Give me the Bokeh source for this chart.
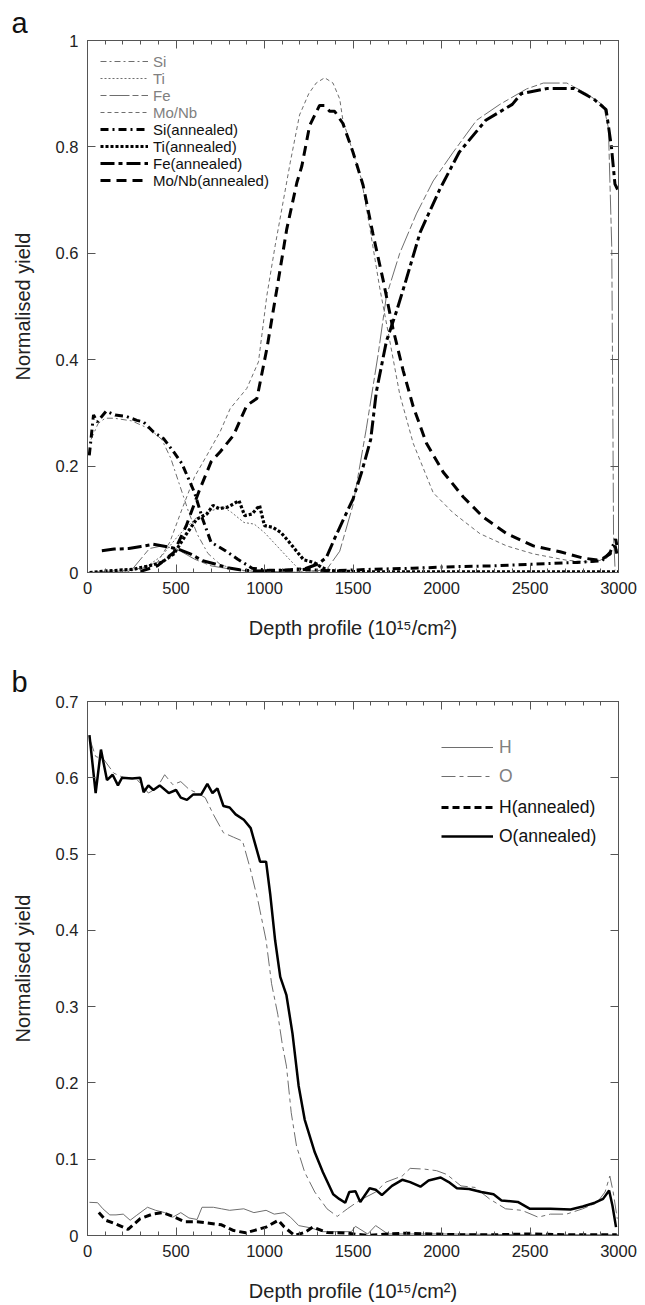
from bokeh.plotting import figure
from bokeh.models import (Range1d, LinearAxis, FixedTicker, CustomJSTickFormatter, Legend)
from bokeh.layouts import column
from bokeh.embed import file_html
from bokeh.resources import INLINE

# ---------------- data: panel a ----------------
si_x = [20, 60, 100, 150, 250, 350, 420, 470, 520, 570, 620, 680, 750, 850, 1000, 1500, 2000, 2500, 2950, 2990]
si_y = [0.25, 0.28, 0.29, 0.29, 0.285, 0.27, 0.25, 0.215, 0.165, 0.115, 0.072, 0.036, 0.015, 0.004, 0.001, 0.0, 0.0, 0.0, 0.0, 0.0]

ti_x = [0, 209, 326, 419, 512, 605, 698, 767, 814, 884, 942, 1000, 1070, 1140, 1186, 1256, 1400, 2000, 3000]
ti_y = [0, 0, 0.009, 0.031, 0.069, 0.1, 0.116, 0.123, 0.113, 0.094, 0.091, 0.075, 0.05, 0.025, 0.009, 0.003, 0, 0, 0]

fe_x = [0, 250, 350, 420, 500, 605, 698, 814, 950, 1200, 1350, 1425, 1500, 1575, 1642, 1689, 1764, 1858, 1953,
        2066, 2198, 2330, 2481, 2575, 2708, 2821, 2915, 2943, 2962, 2968, 2972, 2981]
fe_y = [0.0, 0.005, 0.045, 0.05, 0.045, 0.025, 0.0125, 0.006, 0.002, 0.001, 0.005, 0.04, 0.127, 0.27, 0.41, 0.52,
        0.6, 0.674, 0.736, 0.79, 0.85, 0.88, 0.909, 0.92, 0.92, 0.9, 0.878, 0.836, 0.61, 0.3, 0.07, 0.004]

mo_x = [0, 209, 300, 395, 465, 535, 605, 674, 750, 806, 900, 966, 1013, 1060, 1107, 1145, 1198, 1250, 1292, 1340,
        1387, 1425, 1443, 1500, 1547, 1594, 1651, 1708, 1764, 1840, 1953, 2066, 2217, 2368, 2519, 2708, 2858,
        2934, 2972, 2995]
mo_y = [0, 0.003, 0.008, 0.019, 0.057, 0.12, 0.18, 0.22, 0.265, 0.308, 0.346, 0.396, 0.52, 0.614, 0.70, 0.77, 0.86,
        0.9, 0.92, 0.93, 0.92, 0.89, 0.85, 0.79, 0.74, 0.65, 0.535, 0.435, 0.335, 0.243, 0.15, 0.112, 0.073, 0.05,
        0.035, 0.023, 0.019, 0.027, 0.042, 0.042]

si_ann_x = [10, 34, 56, 72, 105, 156, 222, 279, 316, 373, 429, 486, 533, 605, 651, 698, 779, 849, 930, 1023, 1140,
            1233, 1372, 1605, 1837, 2070, 2302, 2535, 2767, 2907, 2953, 2984, 2995]
si_ann_y = [0.22, 0.296, 0.283, 0.29, 0.303, 0.296, 0.293, 0.286, 0.283, 0.264, 0.252, 0.227, 0.205, 0.15, 0.1,
            0.057, 0.041, 0.025, 0.008, 0.004, 0.004, 0.006, 0.003, 0.006, 0.008, 0.011, 0.0125, 0.016, 0.019,
            0.022, 0.038, 0.063, 0.044]

ti_ann_x = [12, 116, 256, 349, 419, 488, 558, 616, 674, 709, 744, 791, 826, 856, 888, 930, 972, 1000, 1047, 1093,
            1140, 1186, 1221, 1279, 1326, 1372, 1600, 2000, 2500, 3000]
ti_ann_y = [0, 0.003, 0.006, 0.0125, 0.019, 0.035, 0.072, 0.1, 0.11, 0.126, 0.12, 0.123, 0.129, 0.135, 0.107, 0.11,
            0.126, 0.088, 0.085, 0.075, 0.057, 0.038, 0.024, 0.019, 0.009, 0.003, 0.001, 0.001, 0.001, 0.001]

fe_ann_x = [81, 151, 233, 302, 372, 442, 512, 581, 651, 721, 791, 860, 953, 1093, 1186, 1233, 1302, 1349, 1395,
            1442, 1500, 1550, 1600, 1632, 1689, 1745, 1800, 1880, 1990, 2100, 2250, 2400, 2450, 2600, 2750, 2860,
            2930, 2960, 2980, 2995]
fe_ann_y = [0.041, 0.044, 0.045, 0.049, 0.053, 0.049, 0.044, 0.035, 0.022, 0.016, 0.009, 0.005, 0.003, 0.004,
            0.006, 0.0075, 0.016, 0.028, 0.063, 0.097, 0.138, 0.19, 0.25, 0.34, 0.435, 0.49, 0.55, 0.64, 0.72,
            0.79, 0.85, 0.88, 0.9, 0.91, 0.91, 0.89, 0.87, 0.8, 0.73, 0.72]

mo_ann_x = [300, 395, 488, 558, 628, 698, 750, 825, 900, 957, 1013, 1070, 1126, 1183, 1211, 1255, 1311, 1340, 1368,
            1396, 1443, 1500, 1557, 1613, 1670, 1726, 1783, 1840, 1915, 2009, 2123, 2236, 2368, 2519, 2670, 2802,
            2896, 2953, 2981, 2994]
mo_ann_y = [0.002, 0.0125, 0.038, 0.088, 0.151, 0.208, 0.227, 0.258, 0.314, 0.327, 0.42, 0.533, 0.646, 0.733,
            0.764, 0.84, 0.878, 0.878, 0.867, 0.867, 0.844, 0.79, 0.728, 0.636, 0.55, 0.458, 0.38, 0.312, 0.243,
            0.189, 0.142, 0.104, 0.073, 0.05, 0.039, 0.027, 0.023, 0.035, 0.05, 0.031]

# ---------------- data: panel b ----------------
h_x = [11, 57, 87, 126, 161, 202, 241, 275, 339, 385, 436, 482, 527, 573, 619, 647, 711, 757, 803, 883, 940, 1009,
       1055, 1112, 1147, 1193, 1261, 1330, 1491, 1514, 1583, 1628, 1697, 2000, 2500, 3000]
h_y = [0.0435, 0.043, 0.035, 0.027, 0.027, 0.028, 0.02, 0.026, 0.037, 0.033, 0.03, 0.024, 0.03, 0.023, 0.021, 0.037,
       0.037, 0.035, 0.033, 0.035, 0.03, 0.033, 0.028, 0.03, 0.024, 0.013, 0.01, 0.005, 0.005, 0.012, 0.002, 0.013,
       0.002, 0.002, 0.001, 0.001]

o_x = [11, 46, 92, 149, 206, 275, 344, 390, 436, 482, 527, 573, 619, 665, 711, 768, 826, 876, 917, 963, 1009, 1040,
       1075, 1101, 1124, 1151, 1181, 1227, 1284, 1353, 1411, 1468, 1537, 1628, 1686, 1778, 1823, 1904, 1972, 2030,
       2110, 2190, 2271, 2362, 2454, 2546, 2615, 2706, 2798, 2878, 2924, 2951, 2970, 2993]
o_y = [0.652, 0.628, 0.624, 0.606, 0.6, 0.599, 0.58, 0.586, 0.604, 0.591, 0.595, 0.585, 0.58, 0.574, 0.552, 0.528,
       0.522, 0.517, 0.483, 0.439, 0.387, 0.33, 0.29, 0.25, 0.222, 0.161, 0.117, 0.083, 0.057, 0.035, 0.025, 0.035,
       0.046, 0.057, 0.07, 0.078, 0.088, 0.087, 0.085, 0.08, 0.065, 0.063, 0.048, 0.035, 0.033, 0.024, 0.028,
       0.028, 0.035, 0.043, 0.057, 0.078, 0.057, 0.022]

h_ann_x = [64, 103, 161, 229, 298, 367, 424, 482, 550, 619, 688, 757, 826, 894, 963, 1009, 1078, 1112, 1170, 1227,
           1273, 1353, 1468, 1583, 1700, 1800, 1950, 2100, 2300, 2500, 2700, 2900, 2990]
h_ann_y = [0.03, 0.02, 0.015, 0.008, 0.022, 0.028, 0.03, 0.025, 0.018, 0.018, 0.016, 0.014, 0.0065, 0.0035, 0.008,
           0.011, 0.02, 0.011, 0.0, 0.004, 0.011, 0.004, 0.003, 0.0, 0.002, 0.003, 0.002, 0.001, 0.001, 0.002,
           0.001, 0.001, 0.001]

o_ann_x = [11, 46, 76, 110, 142, 172, 195, 252, 298, 317, 344, 372, 408, 459, 500, 527, 562, 596, 642, 677, 706,
           734, 768, 803, 837, 883, 922, 975, 1009, 1032, 1060, 1089, 1124, 1158, 1193, 1227, 1284, 1330, 1388, 1422,
           1456, 1479, 1514, 1541, 1594, 1628, 1663, 1720, 1778, 1823, 1881, 1927, 1995, 2041, 2087, 2156, 2225,
           2294, 2339, 2431, 2500, 2615, 2729, 2798, 2867, 2913, 2947, 2966, 2986]
o_ann_y = [0.656, 0.58, 0.637, 0.597, 0.604, 0.59, 0.6, 0.599, 0.6, 0.581, 0.59, 0.584, 0.59, 0.58, 0.584, 0.574,
           0.571, 0.578, 0.578, 0.592, 0.58, 0.586, 0.563, 0.561, 0.552, 0.545, 0.534, 0.49, 0.49, 0.448, 0.387,
           0.339, 0.315, 0.265, 0.196, 0.152, 0.109, 0.083, 0.054, 0.048, 0.043, 0.057, 0.058, 0.044, 0.062, 0.06,
           0.053, 0.065, 0.073, 0.07, 0.064, 0.072, 0.076, 0.07, 0.062, 0.061, 0.057, 0.054, 0.046, 0.044, 0.035,
           0.035, 0.034, 0.038, 0.043, 0.048, 0.059, 0.039, 0.011]

x_ticks = [0, 500, 1000, 1500, 2000, 2500, 3000]
x_minor = list(range(0, 3001, 100))
ya_ticks = [0, 0.2, 0.4, 0.6, 0.8, 1.0]
yb_ticks = [0, 0.1, 0.2, 0.3, 0.4, 0.5, 0.6, 0.7]

# ---------------- styling ----------------
FONT = "Liberation Sans"
GREY = "#6e6e6e"
GREY_TXT = "#808080"
AX = "#555555"
XLABEL = "Depth profile (10\u00b9\u2075/cm\u00b2)"
YLABEL = "Normalised yield"

yfmt = CustomJSTickFormatter(code="""
    if (Math.abs(tick) < 1e-9) return '0';
    if (Math.abs(tick - 1) < 1e-9) return '1';
    return tick.toFixed(1);
""")


def make_fig(height, ymax, yticks, left, right, top, bottom, letter, letter_standoff):
    p = figure(width=645, height=height, x_range=Range1d(0, 3000), y_range=Range1d(0, ymax),
               output_backend="svg", toolbar_location=None,
               min_border_left=left, min_border_right=right, min_border_top=top, min_border_bottom=bottom,
               x_axis_label=XLABEL, y_axis_label=YLABEL)
    p.grid.visible = False
    p.outline_line_color = AX
    p.outline_line_width = 1
    p.background_fill_color = "white"
    p.border_fill_color = "white"
    for ax in (p.xaxis[0], p.yaxis[0]):
        ax.axis_line_color = AX
        ax.major_tick_line_color = AX
        ax.minor_tick_line_color = AX
        ax.major_tick_in = 8
        ax.major_tick_out = 0
        ax.minor_tick_in = 4
        ax.minor_tick_out = 0
        ax.major_label_text_font = FONT
        ax.major_label_text_font_size = "16.5px"
        ax.major_label_text_color = "#222222"
        ax.axis_label_text_font = FONT
        ax.axis_label_text_font_size = "20px"
        ax.axis_label_text_font_style = "normal"
        ax.axis_label_text_color = "#222222"
    p.xaxis[0].ticker = FixedTicker(ticks=x_ticks, minor_ticks=x_minor)
    p.xaxis[0].major_label_standoff = 9
    p.xaxis[0].axis_label_standoff = 20
    p.yaxis[0].ticker = FixedTicker(ticks=yticks, minor_ticks=[])
    p.yaxis[0].formatter = yfmt
    p.yaxis[0].major_label_standoff = 9
    p.yaxis[0].axis_label_standoff = 19

    blank = CustomJSTickFormatter(code="return '';")
    right_ax = LinearAxis(ticker=FixedTicker(ticks=yticks, minor_ticks=[]), formatter=blank,
                          axis_line_color=AX, major_tick_line_color=AX, major_tick_in=8, major_tick_out=0,
                          minor_tick_in=0, minor_tick_out=0, major_label_standoff=0,
                          major_label_text_font_size="1px")
    top_ax = LinearAxis(ticker=FixedTicker(ticks=x_ticks, minor_ticks=x_minor), formatter=blank,
                        axis_line_color=AX, major_tick_line_color=AX, minor_tick_line_color=AX,
                        major_tick_in=8, major_tick_out=0, minor_tick_in=4, minor_tick_out=0,
                        major_label_standoff=0, major_label_text_font_size="1px")
    p.add_layout(right_ax, "right")
    p.add_layout(top_ax, "above")

    p.title.text = letter
    p.title.align = "left"
    p.title.offset = -76
    p.title.standoff = letter_standoff
    p.title.text_font = FONT
    p.title.text_font_size = "29px"
    p.title.text_font_style = "normal"
    p.title.text_color = "#111111"
    return p


def add_legend_rows(p, entries, color, x, ys, size, gw, standoff):
    # one single-row legend per entry so every row sits where the reference has it
    for (lab, rend), y in zip(entries, ys):
        p.add_layout(Legend(items=[(lab, [rend])], location=(x, y), label_text_font=FONT,
                            label_text_font_size=size, label_text_color=color,
                            glyph_width=gw, glyph_height=24, label_height=24,
                            label_standoff=standoff, spacing=0, padding=0, margin=0,
                            border_line_color=None, background_fill_alpha=0))


# ---------------- panel a ----------------
pa = make_fig(655, 1.0, ya_ticks, 87, 27, 40, 83, "a", 3)
r_si = pa.line(si_x, si_y, line_color=GREY, line_width=1, line_dash="6 3 2 3")
r_ti = pa.line(ti_x, ti_y, line_color=GREY, line_width=1, line_dash="2 2")
r_fe = pa.line(fe_x, fe_y, line_color=GREY, line_width=1, line_dash="6 3 20 3")
r_mo = pa.line(mo_x, mo_y, line_color=GREY, line_width=1, line_dash="4 3")
r_si_a = pa.line(si_ann_x, si_ann_y, line_color="black", line_width=3, line_dash="8 4 2 4")
r_ti_a = pa.line(ti_ann_x, ti_ann_y, line_color="black", line_width=3.2, line_dash="3 2")
r_fe_a = pa.line(fe_ann_x, fe_ann_y, line_color="black", line_width=3, line_dash="14 4 4 4")
r_mo_a = pa.line(mo_ann_x, mo_ann_y, line_color="black", line_width=3, line_dash="10 6")

add_legend_rows(pa, [("Si", r_si), ("Ti", r_ti), ("Fe", r_fe), ("Mo/Nb", r_mo)],
                GREY_TXT, 13, [499, 482, 465, 448], "15px", 48, 5)
add_legend_rows(pa, [("Si(annealed)", r_si_a), ("Ti(annealed)", r_ti_a),
                     ("Fe(annealed)", r_fe_a), ("Mo/Nb(annealed)", r_mo_a)],
                "#111111", 13, [431, 414, 397, 380], "15px", 48, 5)

# ---------------- panel b ----------------
pb = make_fig(650, 0.7, yb_ticks, 86, 21, 46, 70, "b", 7)
r_h = pb.line(h_x, h_y, line_color=GREY, line_width=1)
r_o = pb.line(o_x, o_y, line_color=GREY, line_width=1, line_dash="14 4 4 4")
r_h_a = pb.line(h_ann_x, h_ann_y, line_color="black", line_width=3, line_dash="7 4")
r_o_a = pb.line(o_ann_x, o_ann_y, line_color="black", line_width=2.5)

add_legend_rows(pb, [("H", r_h), ("O", r_o)], GREY_TXT, 354, [476, 447], "17.5px", 52, 6)
add_legend_rows(pb, [("H(annealed)", r_h_a), ("O(annealed)", r_o_a)], "#111111", 354, [416, 387],
                "17.5px", 52, 6)

layout = column(pa, pb, spacing=0)
open("out.html", "w").write(file_html(layout, INLINE))
